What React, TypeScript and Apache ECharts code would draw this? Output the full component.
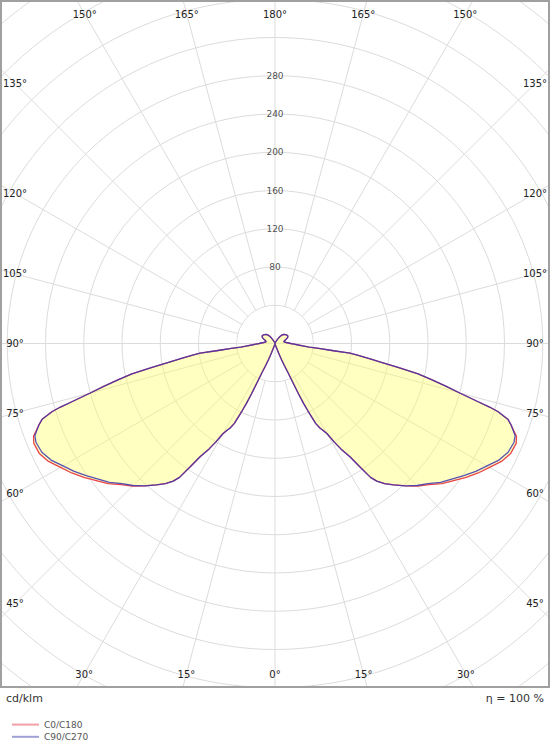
import React, { useEffect, useRef } from "react";
import * as echarts from "echarts";

// ---------- data ----------
const GAMMA = [
  0, 10, 15, 18, 20, 21, 22, 23, 24, 24.5, 25, 25.5, 26, 27, 28, 29, 30, 31, 32, 33.5,
  34.5, 35.5, 36.5, 38, 40, 42.5, 45, 47.5, 50, 52.5, 55, 57.5, 60, 62.5, 65, 67.5, 69,
  70, 71, 72, 73, 73.5, 74, 75, 76, 77, 78, 79, 80, 81, 82, 82.6, 83, 83.5, 84, 85, 86.3,
  88, 90, 95, 100, 105, 110, 115, 120, 125, 130, 135, 140, 145, 148, 152, 156, 160, 170, 180,
];

const C90_C270 = [
  0, 0.5, 1, 3, 7, 12, 18, 25, 33, 42, 58, 70, 78, 94, 100, 104, 109, 120, 130, 142,
  156, 172, 179, 186, 193, 202, 210, 217, 226, 233, 241, 249, 256, 264, 269, 270.5, 269,
  265, 261, 256, 244, 234, 221, 200, 184, 168, 153, 131, 113, 99, 87, 79, 60, 46, 36, 30.5, 24.4,
  20, 16.5, 12, 9.5, 10, 12, 14.5, 15.6, 15.3, 14.5, 13.3, 11.8, 9, 6, 3.5, 2, 1.2, 0.5, 0.3,
];

const C0_C180 = [
  0, 0.5, 1, 3, 7, 12, 18, 25, 33, 42, 58, 70, 78, 94, 100, 104, 109, 120, 130, 142,
  156, 172, 179, 186, 193, 202, 211, 218.5, 228, 235.5, 244, 252, 259, 267, 272, 273, 270.5,
  265.5, 261, 256, 244, 234, 221, 200, 184, 168, 153, 131, 113, 99, 87, 79, 60, 46, 36, 30.5, 24.4,
  20, 16.5, 12, 9.5, 10, 12, 14.5, 15.6, 15.3, 14.5, 13.3, 11.8, 9, 6, 3.5, 2, 1.2, 0.5, 0.3,
];

const RADIAL_TICKS = [80, 120, 160, 200, 240, 280];
const ANGLE_TICKS = [0, 15, 30, 45, 60, 75, 90, 105, 120, 135, 150, 165, 180];
const SERIES_NAMES = ["C0/C180", "C90/C270"];
const UNIT_LABEL = "cd/klm";
const EFFICIENCY_LABEL = "η = 100 %";

// ---------- layout ----------
const W = 550;
const H = 750;
const FRAME_H = 688;
const CX = 275;
const CY = 343.5;
const R_MAX = 480;
const POLAR_RADIUS = 459;
const PX = POLAR_RADIUS / R_MAX;
const LABEL_INSET_X = 15;
const LABEL_TOP = 14;
const LABEL_BOTTOM = 674;
const FONT = "DejaVu Sans, Verdana, sans-serif";
const GRID = "#dcdcdc";

function toPolar(values: number[]) {
  const right = GAMMA.map((g, i) => [values[i], 180 - g]).reverse();
  const left = GAMMA.map((g, i) => [values[i], 180 + g]);
  return right.concat(left);
}

function anglePos(g: number, side: number) {
  const rad = (g * Math.PI) / 180;
  const sx = side * Math.sin(rad);
  const sy = Math.cos(rad);
  let r = Infinity;
  if (Math.abs(sx) > 1e-6) {
    const avail = sx < 0 ? CX - LABEL_INSET_X : W - LABEL_INSET_X - CX;
    r = Math.min(r, avail / Math.abs(sx));
  }
  if (sy > 1e-6) r = Math.min(r, (LABEL_BOTTOM - CY) / sy);
  if (sy < -1e-6) r = Math.min(r, (CY - LABEL_TOP) / -sy);
  return [CX + r * sx, CY + r * sy];
}

export default function App() {
  const ref = useRef<HTMLDivElement>(null);

  useEffect(() => {
    if (!ref.current) return;
    const chart = echarts.init(ref.current, undefined, { renderer: "svg" });

    const angleLabels: any[] = [];
    ANGLE_TICKS.forEach((g) => {
      const sides = g === 0 || g === 180 ? [1] : [-1, 1];
      sides.forEach((s) => {
        const [x, y] = anglePos(g, s);
        angleLabels.push({
          type: "text",
          x,
          y,
          z: 60,
          silent: true,
          style: {
            text: `${g}°`,
            fontSize: 10,
            fontFamily: FONT,
            fill: "#222",
            align: "center",
            verticalAlign: "middle",
          },
        });
      });
    });

    const innerR = 40 * PX - 0.7;

    chart.setOption({
      animation: false,
      backgroundColor: "#ffffff",
      polar: { center: [CX, CY], radius: POLAR_RADIUS },
      angleAxis: {
        type: "value",
        min: 0,
        max: 360,
        interval: 15,
        startAngle: 90,
        clockwise: true,
        axisLine: { show: false },
        axisTick: { show: false },
        axisLabel: { show: false },
        splitLine: { show: true, lineStyle: { color: GRID, width: 1 } },
      },
      radiusAxis: {
        type: "value",
        min: 0,
        max: R_MAX,
        interval: 40,
        axisLine: { show: false },
        axisTick: { show: false },
        axisLabel: { show: false },
        splitLine: { show: true, lineStyle: { color: GRID, width: 1 } },
      },
      legend: {
        orient: "vertical",
        left: 6,
        top: 714,
        itemWidth: 27,
        itemHeight: 14,
        itemGap: 1,
        z: 70,
        selectedMode: false,
        itemStyle: { opacity: 0 },
        textStyle: { fontSize: 9, color: "#555", fontFamily: FONT },
        data: [
          {
            name: SERIES_NAMES[0],
            itemStyle: { opacity: 0 },
            lineStyle: { color: "#f0a0a4", width: 2, opacity: 1 },
          },
          {
            name: SERIES_NAMES[1],
            itemStyle: { opacity: 0 },
            lineStyle: { color: "#a0a0d8", width: 2, opacity: 1 },
          },
        ],
      },
      series: [
        {
          name: SERIES_NAMES[0],
          type: "line",
          coordinateSystem: "polar",
          data: toPolar(C0_C180),
          symbol: "none",
          showSymbol: false,
          lineStyle: { color: "#e8454a", width: 1.3 },
          itemStyle: { color: "#e8454a" },
          areaStyle: { color: "#ffff66", opacity: 0.4 },
          z: 2,
          silent: true,
        },
        {
          name: SERIES_NAMES[1],
          type: "line",
          coordinateSystem: "polar",
          data: toPolar(C90_C270),
          symbol: "none",
          showSymbol: false,
          lineStyle: { color: "#3b34b0", width: 1.3, opacity: 0.85 },
          itemStyle: { color: "#3b34b0" },
          z: 3,
          silent: true,
        },
        {
          type: "scatter",
          coordinateSystem: "polar",
          data: RADIAL_TICKS.map((v) => [v, 0]),
          symbolSize: 1,
          itemStyle: { color: "rgba(0,0,0,0)" },
          label: {
            show: true,
            position: "inside",
            formatter: (p: any) => String(p.value[0]),
            fontSize: 9,
            color: "#222",
            fontFamily: FONT,
          },
          silent: true,
          z: 4,
        },
      ],
      graphic: [
        {
          type: "circle",
          shape: { cx: CX, cy: CY, r: innerR },
          style: { fill: "#ffffff" },
          z: 1,
          silent: true,
        },
        {
          type: "line",
          shape: { x1: CX - innerR, y1: CY, x2: CX + innerR, y2: CY },
          style: { stroke: GRID, lineWidth: 1 },
          z: 1,
          silent: true,
        },
        {
          type: "line",
          shape: { x1: CX, y1: CY - innerR, x2: CX, y2: CY + innerR },
          style: { stroke: GRID, lineWidth: 1 },
          z: 1,
          silent: true,
        },
        {
          type: "rect",
          shape: { x: 0, y: FRAME_H, width: W, height: H - FRAME_H },
          style: { fill: "#ffffff" },
          z: 50,
          silent: true,
        },
        {
          type: "rect",
          shape: { x: 1, y: 1, width: W - 2, height: FRAME_H - 2 },
          style: { fill: "none", stroke: "#a0a0a0", lineWidth: 2 },
          z: 60,
          silent: true,
        },
        ...angleLabels,
        {
          type: "text",
          x: 6,
          y: 698,
          z: 60,
          style: {
            text: UNIT_LABEL,
            fontSize: 11,
            fontFamily: FONT,
            fill: "#333",
            align: "left",
            verticalAlign: "middle",
          },
        },
        {
          type: "text",
          x: 544,
          y: 698,
          z: 60,
          style: {
            text: EFFICIENCY_LABEL,
            fontSize: 11,
            fontFamily: FONT,
            fill: "#333",
            align: "right",
            verticalAlign: "middle",
          },
        },
      ],
    });

    return () => chart.dispose();
  }, []);

  return (
    <div
      ref={ref}
      style={{ position: "absolute", left: 0, top: 0, width: W, height: H, background: "#fff" }}
    />
  );
}
